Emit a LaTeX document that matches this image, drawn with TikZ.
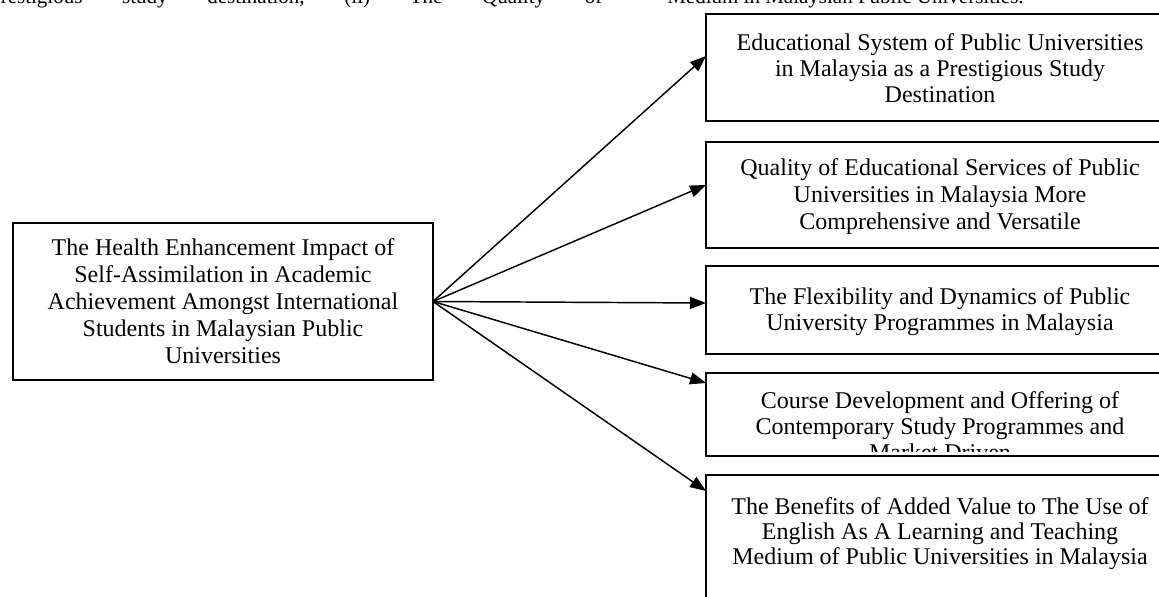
\documentclass[tikz,border=0pt]{standalone}
\usepackage{fontspec}
\setmainfont{Liberation Serif}
\usetikzlibrary{arrows.meta,calc}
\tikzset{
  box/.style={draw=black, line width=1.1pt, rectangle, inner sep=0pt, outer sep=0pt, anchor=north west},
  boxtext/.style={anchor=north, inner sep=0pt, align=center, font=\fontsize{18pt}{19.5pt}\selectfont},
  link/.style={line width=1.1pt, -{Triangle[length=12pt,width=9pt]}},
  bodytext/.style={anchor=base west, inner sep=0pt, font=\fontsize{15.75pt}{18pt}\selectfont}
}
\begin{document}
\begin{tikzpicture}[x=0.75pt,y=-0.75pt]
\useasboundingbox (0,0) rectangle (1159,596);
\clip (0,0) rectangle (1159,596);
% surrounding page text, cut at the top
\node[bodytext] (p1) at (-10,3) {\makebox[612\dimexpr0.75pt\relax][s]{prestigious\hfill study\hfill destination,\hfill (ii)\hfill The\hfill Quality\hfill of}};
\node[bodytext] (p2) at (667,3) {Medium in Malaysian Public Universities.};
% left box
\node[box, minimum width=315pt, minimum height=117.75pt] (L) at (13,223) {};
\node[boxtext, font=\fontsize{18pt}{20.25pt}\selectfont] (Lt) at ($(L.north)+(0,15)$) {The Health Enhancement Impact of\\Self-Assimilation in Academic\\Achievement Amongst International\\Students in Malaysian Public\\Universities};
% right boxes
\node[box, minimum width=351pt, minimum height=80.25pt] (b1) at (706,14) {};
\node[boxtext] (b1t) at ($(b1.north)+(0,19)$) {Educational System of Public Universities\\in Malaysia as a Prestigious Study\\Destination};
\node[box, minimum width=351pt, minimum height=79.5pt] (b2) at (706,142) {};
\node[boxtext, font=\fontsize{18pt}{20.25pt}\selectfont] (b2t) at ($(b2.north)+(0,16)$) {Quality of Educational Services of Public\\Universities in Malaysia More\\Comprehensive and Versatile};
\node[box, minimum width=351pt, minimum height=66pt] (b3) at (706,266) {};
\node[boxtext] (b3t) at ($(b3.north)+(0,21)$) {The Flexibility and Dynamics of Public\\University Programmes in Malaysia};
\node[box, minimum width=351pt, minimum height=62.25pt] (b4) at (706,373) {};
\begin{scope}
\clip (b4.north west) rectangle ($(b4.south east)+(0,-5)$);
\node[boxtext] (b4t) at ($(b4.north)+(0,18)$) {Course Development and Offering of\\Contemporary Study Programmes and\\Market Driven};
\end{scope}
\node[box, minimum width=351pt, minimum height=123.75pt] (b5) at (706,475) {};
\node[boxtext, font=\fontsize{18pt}{18.75pt}\selectfont] (b5t) at ($(b5.north)+(0,22)$) {The Benefits of Added Value to The Use of\\English As A Learning and Teaching\\Medium of Public Universities in Malaysia};
% connectors
\draw[link] (L.east) -- ($(b1.north west)+(0,42)$);
\draw[link] (L.east) -- ($(b2.north west)+(0,43)$);
\draw[link] (L.east) -- ($(b3.north west)+(0,37)$);
\draw[link] (L.east) -- ($(b4.north west)+(0,10)$);
\draw[link] (L.east) -- ($(b5.north west)+(0,16)$);
\end{tikzpicture}
\end{document}
